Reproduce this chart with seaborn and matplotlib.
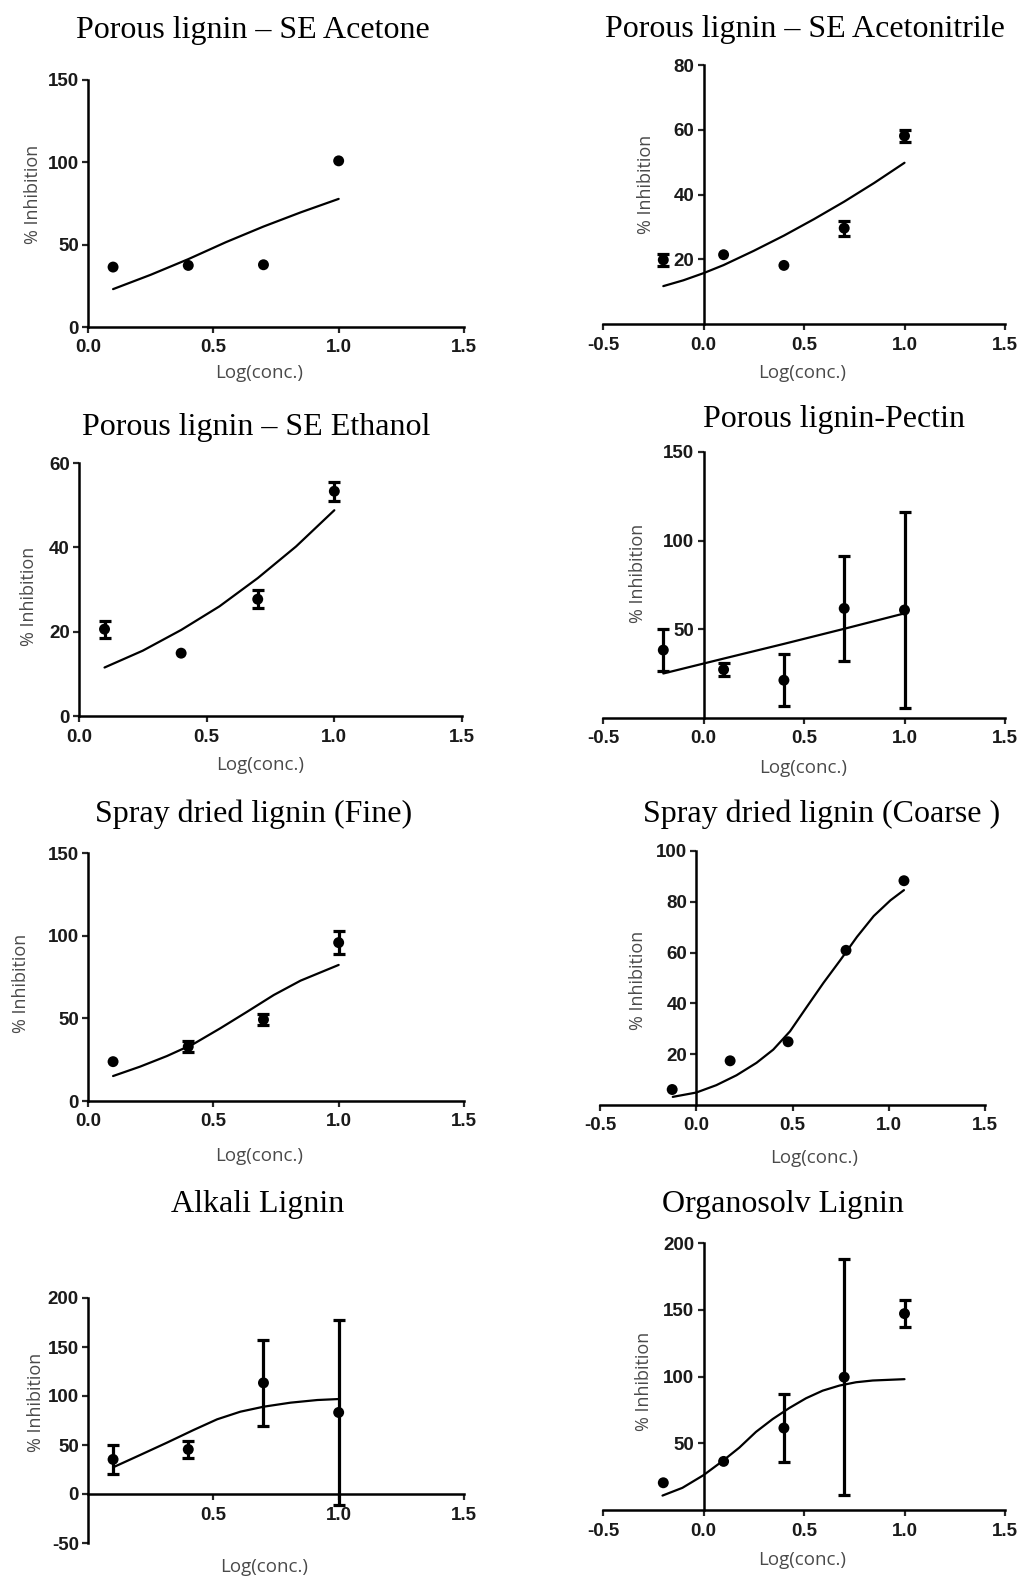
import matplotlib
matplotlib.use("Agg")
import matplotlib.pyplot as plt
import seaborn as sns

sns.set_style("ticks")
plt.rcParams["font.family"] = ["Liberation Sans", "DejaVu Sans"]

# ---------------- data ----------------
# Porous lignin - SE Acetone
acetone_x = [0.1, 0.4, 0.7, 1.0]
acetone_y = [36.4, 37.4, 37.8, 100.9]
acetone_err = [0, 0, 0, 0]
acetone_fit_x = [0.1, 0.25, 0.4, 0.55, 0.7, 0.85, 1.0]
acetone_fit_y = [23.0, 31.7, 41.2, 51.5, 61.0, 69.7, 77.8]

# Porous lignin - SE Acetonitrile
acetonitrile_x = [-0.2, 0.1, 0.4, 0.7, 1.0]
acetonitrile_y = [19.8, 21.4, 18.1, 29.6, 58.1]
acetonitrile_err = [1.9, 0, 0, 2.3, 1.8]
acetonitrile_fit_x = [-0.2, -0.1, 0.0, 0.1, 0.25, 0.4, 0.55, 0.7, 0.85, 1.0]
acetonitrile_fit_y = [11.7, 13.5, 15.7, 18.2, 22.6, 27.3, 32.4, 37.8, 43.6, 49.8]

# Porous lignin - SE Ethanol
ethanol_x = [0.1, 0.4, 0.7, 1.0]
ethanol_y = [20.6, 14.9, 27.7, 53.3]
ethanol_err = [2.0, 0, 2.2, 2.2]
ethanol_fit_x = [0.1, 0.25, 0.4, 0.55, 0.7, 0.85, 1.0]
ethanol_fit_y = [11.5, 15.5, 20.4, 26.0, 32.7, 40.2, 48.8]

# Porous lignin - Pectin
pectin_x = [-0.2, 0.1, 0.4, 0.7, 1.0]
pectin_y = [38.3, 27.3, 21.3, 61.8, 60.9]
pectin_err = [12.0, 3.8, 14.6, 29.7, 55.0]
pectin_fit_x = [-0.2, 0.1, 0.4, 0.7, 1.0]
pectin_fit_y = [25.1, 33.5, 41.8, 50.3, 59.0]

# Spray dried lignin (Fine)
fine_x = [0.1, 0.4, 0.7, 1.0]
fine_y = [23.8, 32.9, 49.2, 95.8]
fine_err = [0, 3.3, 3.2, 6.8]
fine_fit_x = [0.1, 0.208, 0.315, 0.421, 0.528, 0.635, 0.741, 0.848, 1.0]
fine_fit_y = [15.1, 20.8, 27.2, 34.5, 44.0, 54.0, 64.1, 72.8, 82.3]

# Spray dried lignin (Coarse)
coarse_x = [-0.125, 0.176, 0.477, 0.778, 1.079]
coarse_y = [6.1, 17.4, 24.9, 60.9, 88.3]
coarse_err = [0, 0, 0, 0, 0]
coarse_fit_x = [-0.122, 0.0, 0.104, 0.209, 0.313, 0.4, 0.487, 0.574, 0.661,
                0.748, 0.835, 0.922, 1.009, 1.079]
coarse_fit_y = [3.2, 4.9, 7.8, 11.7, 16.6, 21.8, 29.0, 38.6, 48.1,
                57.0, 66.2, 74.4, 80.6, 84.6]

# Alkali Lignin
alkali_x = [0.1, 0.4, 0.7, 1.0]
alkali_y = [35.3, 45.5, 113.4, 83.2]
alkali_err = [14.7, 8.5, 43.8, 94.0]
alkali_fit_x = [0.1, 0.208, 0.315, 0.421, 0.515, 0.608, 0.701, 0.808, 0.915, 1.0]
alkali_fit_y = [27.2, 39.8, 52.4, 65.3, 76.2, 84.0, 89.1, 93.2, 95.9, 96.9]

# Organosolv Lignin
organosolv_x = [-0.2, 0.1, 0.4, 0.7, 1.0]
organosolv_y = [20.4, 36.4, 61.4, 99.5, 147.1]
organosolv_err = [0, 0, 25.8, 88.5, 10.3]
organosolv_fit_x = [-0.204, -0.105, 0.0, 0.095, 0.178, 0.261, 0.344, 0.427, 0.51,
                    0.593, 0.676, 0.759, 0.842, 1.0]
organosolv_fit_y = [10.8, 16.6, 26.1, 36.7, 46.7, 58.5, 68.1, 76.4, 83.7,
                    89.4, 93.2, 95.7, 97.0, 98.0]

titles = ["Porous lignin \u2013 SE Acetone", "Porous lignin \u2013 SE Acetonitrile",
          "Porous lignin \u2013 SE Ethanol", "Porous lignin-Pectin",
          "Spray dried lignin (Fine)", "Spray dried lignin (Coarse )",
          "Alkali Lignin", "Organosolv Lignin"]

# ---------------- layout (figure pixels) ----------------
W, H = 1021, 1577
fig = plt.figure(figsize=(W / 100, H / 100), dpi=100)

panels = [
    dict(x=acetone_x, y=acetone_y, err=acetone_err, fx=acetone_fit_x, fy=acetone_fit_y,
         box=(88, 464, 80, 327), xlim=(0, 1.5), ylim=(0, 150),
         xticks=[0, 0.5, 1.0, 1.5], yticks=[0, 50, 100, 150], cross=False,
         title_xy=(253, 38), xl=(259, 373), yl=(33, 194)),
    dict(x=acetonitrile_x, y=acetonitrile_y, err=acetonitrile_err, fx=acetonitrile_fit_x,
         fy=acetonitrile_fit_y, box=(603, 1005, 65, 324), xlim=(-0.5, 1.5), ylim=(0, 80),
         xticks=[-0.5, 0, 0.5, 1.0, 1.5], yticks=[20, 40, 60, 80], cross=True,
         title_xy=(805, 37), xl=(802, 373), yl=(646, 184)),
    dict(x=ethanol_x, y=ethanol_y, err=ethanol_err, fx=ethanol_fit_x, fy=ethanol_fit_y,
         box=(79, 462, 463, 716), xlim=(0, 1.5), ylim=(0, 60),
         xticks=[0, 0.5, 1.0, 1.5], yticks=[0, 20, 40, 60], cross=False,
         title_xy=(256, 435), xl=(260, 765), yl=(29, 596)),
    dict(x=pectin_x, y=pectin_y, err=pectin_err, fx=pectin_fit_x, fy=pectin_fit_y,
         box=(603, 1005, 452, 718), xlim=(-0.5, 1.5), ylim=(0, 150),
         xticks=[-0.5, 0, 0.5, 1.0, 1.5], yticks=[50, 100, 150], cross=True,
         title_xy=(834, 427), xl=(803, 768), yl=(638, 573)),
    dict(x=fine_x, y=fine_y, err=fine_err, fx=fine_fit_x, fy=fine_fit_y,
         box=(88, 464, 853, 1101), xlim=(0, 1.5), ylim=(0, 150),
         xticks=[0, 0.5, 1.0, 1.5], yticks=[0, 50, 100, 150], cross=False,
         title_xy=(254, 822), xl=(259, 1156), yl=(21, 983)),
    dict(x=coarse_x, y=coarse_y, err=coarse_err, fx=coarse_fit_x, fy=coarse_fit_y,
         box=(600, 985, 851, 1105), xlim=(-0.5, 1.5), ylim=(0, 100),
         xticks=[-0.5, 0, 0.5, 1.0, 1.5], yticks=[20, 40, 60, 80, 100], cross=True,
         title_xy=(822, 822), xl=(814, 1158), yl=(638, 980)),
    dict(x=alkali_x, y=alkali_y, err=alkali_err, fx=alkali_fit_x, fy=alkali_fit_y,
         box=(88, 464, 1298, 1543), xlim=(0, 1.5), ylim=(-50, 200),
         xticks=[0.5, 1.0, 1.5], yticks=[-50, 0, 50, 100, 150, 200], cross=True,
         title_xy=(258, 1212), xl=(264, 1567), yl=(36, 1402)),
    dict(x=organosolv_x, y=organosolv_y, err=organosolv_err, fx=organosolv_fit_x,
         fy=organosolv_fit_y, box=(603, 1005, 1243, 1510), xlim=(-0.5, 1.5), ylim=(0, 200),
         xticks=[-0.5, 0, 0.5, 1.0, 1.5], yticks=[50, 100, 150, 200], cross=True,
         title_xy=(783, 1212), xl=(802, 1560), yl=(644, 1381)),
]

label_color = "#4a4a4a"
for title, p in zip(titles, panels):
    l, r, t, b = p["box"]
    ax = fig.add_axes([l / W, 1 - b / H, (r - l) / W, (b - t) / H])
    ax.set_xlim(*p["xlim"])
    ax.set_ylim(*p["ylim"])

    # fitted dose-response curve
    sns.lineplot(x=p["fx"], y=p["fy"], ax=ax, color="black", linewidth=1.6,
                 sort=True, estimator=None)
    # SEM error bars where present
    ex = [xv for xv, e in zip(p["x"], p["err"]) if e > 0]
    ey = [yv for yv, e in zip(p["y"], p["err"]) if e > 0]
    ee = [e for e in p["err"] if e > 0]
    if ee:
        ax.errorbar(ex, ey, yerr=ee, fmt="none", ecolor="black", elinewidth=2.3,
                    capsize=4.6, capthick=2.3, clip_on=False, zorder=3)
    # mean points
    sns.scatterplot(x=p["x"], y=p["y"], ax=ax, color="black", s=62,
                    edgecolor="none", zorder=4, clip_on=False)

    # GraphPad-style axes
    for side in ("top", "right"):
        ax.spines[side].set_visible(False)
    for side in ("left", "bottom"):
        ax.spines[side].set_linewidth(1.8)
        ax.spines[side].set_color("black")
    if p["cross"]:
        ax.spines["left"].set_position(("data", 0))
        ax.spines["bottom"].set_position(("data", 0))
    ax.spines["left"].set_bounds(p["ylim"][0], p["ylim"][1])
    ax.spines["bottom"].set_bounds(p["xlim"][0], p["xlim"][1])

    ax.set_xticks(p["xticks"])
    ax.set_xticklabels([f"{v:.1f}" for v in p["xticks"]], fontweight="bold",
                       fontsize=13.5, color="#1a1a1a")
    ax.set_yticks(p["yticks"])
    ax.set_yticklabels([f"{v:d}" for v in p["yticks"]], fontweight="bold",
                       fontsize=13.5, color="#1a1a1a")
    ax.tick_params(direction="out", length=4, width=1.6)
    ax.tick_params(axis="x", pad=5)
    ax.tick_params(axis="y", pad=2.5)

    ax.set_xlabel("Log(conc.)", fontsize=13.5, color=label_color,
                  family=["Open Sans", "DejaVu Sans"], ha="center", va="center")
    ax.xaxis.set_label_coords(p["xl"][0] / W, 1 - p["xl"][1] / H, transform=fig.transFigure)
    ax.set_ylabel("% Inhibition", fontsize=13, color=label_color,
                  family=["Open Sans", "DejaVu Sans"], rotation=90, ha="center", va="center")
    ax.yaxis.set_label_coords(p["yl"][0] / W, 1 - p["yl"][1] / H, transform=fig.transFigure)

    fig.text(p["title_xy"][0] / W, 1 - p["title_xy"][1] / H, title, ha="center",
             va="baseline", fontsize=23, family=["Liberation Serif", "DejaVu Serif"],
             color="black")

fig.savefig("out.png", dpi=100, facecolor="white")
